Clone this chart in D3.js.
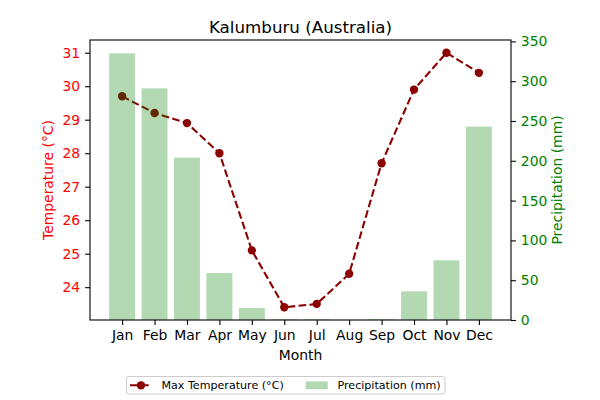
<!DOCTYPE html>
<html><head><meta charset="utf-8">
<script src="https://cdn.jsdelivr.net/npm/d3@7"></script>
<style>body{margin:0;background:#fff}svg{font-family:"DejaVu Sans",sans-serif}</style>
</head><body>
<svg id="c" width="600" height="400"></svg>
<script>
const months = ["Jan","Feb","Mar","Apr","May","Jun","Jul","Aug","Sep","Oct","Nov","Dec"];
const maxTemp = [29.7,29.2,28.9,28.0,25.1,23.4,23.5,24.4,27.7,29.9,31.0,30.4];
const precip = [335,291,204,59,15,1,1,0,1,36,75,243];
const tempTicks = [24,25,26,27,28,29,30,31];
const precipTicks = [0,50,100,150,200,250,300,350];
const title = "Kalumburu (Australia)";
const xLabel = "Month";
const yLeftLabel = "Temperature (°C)";
const yRightLabel = "Precipitation (mm)";
const legendTemp = "Max Temperature (°C)";
const legendPrecip = "Precipitation (mm)";

const svg = d3.select("#c");
const L = 90, R = 511, T = 40, B = 320;

const x = d3.scaleLinear().domain([-0.99, 11.99]).range([L, R]);
const tMin = d3.min(maxTemp), tMax = d3.max(maxTemp), tPad = (tMax - tMin) * 0.05;
const yT = d3.scaleLinear().domain([tMin - tPad, tMax + tPad]).range([B, T]);
const yP = d3.scaleLinear().domain([0, d3.max(precip) * 1.05]).range([B, T]);

// temperature line
const line = d3.line().x((d, i) => x(i)).y(d => yT(d));
svg.append("path").datum(maxTemp).attr("d", line)
  .attr("fill", "none").attr("stroke", "darkred").attr("stroke-width", 2.08)
  .attr("stroke-dasharray", "7.7,3.3");
svg.selectAll("circle.m").data(maxTemp).enter().append("circle")
  .attr("cx", (d, i) => x(i)).attr("cy", d => yT(d)).attr("r", 4.17)
  .attr("fill", "darkred");

// bars on top
const bw = x(0.4) - x(-0.4);
svg.selectAll("rect.b").data(precip).enter().append("rect")
  .attr("x", (d, i) => x(i - 0.4)).attr("width", bw)
  .attr("y", d => yP(d)).attr("height", d => B - yP(d))
  .attr("fill", "green").attr("fill-opacity", 0.3);

// frame
svg.append("rect").attr("x", L).attr("y", T).attr("width", R - L).attr("height", B - T)
  .attr("fill", "none").attr("stroke", "#000").attr("stroke-width", 1.1);

function styleAxis(g, color) {
  g.select(".domain").remove();
  g.selectAll(".tick line").attr("stroke", "#000").attr("stroke-width", 1.1);
  g.selectAll(".tick text").attr("fill", color).attr("font-size", 13.9)
    .attr("font-family", "DejaVu Sans");
}
const gx = svg.append("g").attr("transform", `translate(0,${B})`)
  .call(d3.axisBottom(x).tickValues(d3.range(12)).tickFormat(i => months[i]).tickSize(4.9).tickPadding(4.9));
styleAxis(gx, "#000");
const gl = svg.append("g").attr("transform", `translate(${L},0)`)
  .call(d3.axisLeft(yT).tickValues(tempTicks).tickSize(4.9).tickPadding(4.9));
styleAxis(gl, "red");
const gr = svg.append("g").attr("transform", `translate(${R},0)`)
  .call(d3.axisRight(yP).tickValues(precipTicks).tickSize(4.9).tickPadding(4.9));
styleAxis(gr, "green");

svg.append("text").attr("x", (L + R) / 2).attr("y", 33).attr("text-anchor", "middle")
  .attr("font-size", 16.7).text(title);
svg.append("text").attr("x", (L + R) / 2).attr("y", 360).attr("text-anchor", "middle")
  .attr("font-size", 13.9).text(xLabel);
svg.append("text").attr("transform", `translate(53,${(T + B) / 2}) rotate(-90)`)
  .attr("text-anchor", "middle").attr("font-size", 13.9).attr("fill", "red").text(yLeftLabel);
svg.append("text").attr("transform", `translate(562,${(T + B) / 2}) rotate(-90)`)
  .attr("text-anchor", "middle").attr("font-size", 13.9).attr("fill", "green").text(yRightLabel);

// legend
const lg = svg.append("g");
lg.append("rect").attr("x", 126.5).attr("y", 376.5).attr("width", 318.5).attr("height", 17.5)
  .attr("rx", 2.2).attr("fill", "#fff").attr("fill-opacity", 0.8)
  .attr("stroke", "#cccccc").attr("stroke-width", 1);
const ly = 385.3;
lg.append("line").attr("x1", 130).attr("x2", 152).attr("y1", ly).attr("y2", ly)
  .attr("stroke", "darkred").attr("stroke-width", 2.08).attr("stroke-dasharray", "7.7,3.3");
lg.append("circle").attr("cx", 141).attr("cy", ly).attr("r", 4.17).attr("fill", "darkred");
lg.append("text").attr("x", 161.5).attr("y", ly + 3.9).attr("font-size", 11.1).text(legendTemp);
lg.append("rect").attr("x", 305.5).attr("y", ly - 3.9).attr("width", 22.2).attr("height", 7.8)
  .attr("fill", "green").attr("fill-opacity", 0.3);
lg.append("text").attr("x", 337.5).attr("y", ly + 3.9).attr("font-size", 11.1).text(legendPrecip);
</script>
</body></html>
